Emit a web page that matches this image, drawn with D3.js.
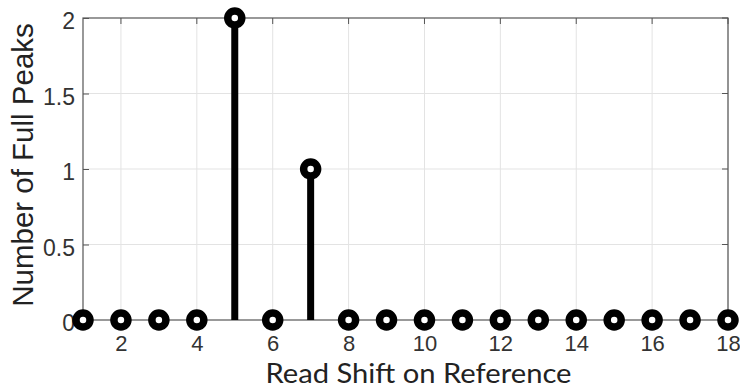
<!DOCTYPE html>
<html>
<head>
<meta charset="utf-8">
<script src="https://cdn.jsdelivr.net/npm/d3@7"></script>
<style>
  html, body { margin: 0; padding: 0; background: #fff; }
  svg { display: block; }
</style>
</head>
<body>
<svg id="chart" width="740" height="389"></svg>
<script>
// Read shifts along the reference and the number of full peaks found at each
const shifts = [1, 2, 3, 4, 5, 6, 7, 8, 9, 10, 11, 12, 13, 14, 15, 16, 17, 18];
const peakCounts = [0, 0, 0, 0, 2, 0, 1, 0, 0, 0, 0, 0, 0, 0, 0, 0, 0, 0];
const xTicks = [2, 4, 6, 8, 10, 12, 14, 16, 18];
const yTicks = [0, 0.5, 1, 1.5, 2];
const xTitle = "Read Shift on Reference";
const yTitle = "Number of Full Peaks";

const svg = d3.select("#chart");
const plotL = 83, plotR = 728, plotT = 18, plotB = 320;

const x = d3.scaleLinear().domain([1, 18]).range([plotL, plotR]);
const y = d3.scaleLinear().domain([0, 2]).range([plotB, plotT]);

// grid lines
const grid = svg.append("g");
grid.selectAll("line.gx").data(xTicks).join("line")
  .attr("x1", d => x(d)).attr("x2", d => x(d))
  .attr("y1", plotT).attr("y2", plotB)
  .attr("stroke", "#e3e3e3").attr("stroke-width", 1);
grid.selectAll("line.gy").data(yTicks.filter(d => d > 0 && d < 2)).join("line")
  .attr("x1", plotL).attr("x2", plotR)
  .attr("y1", d => y(d)).attr("y2", d => y(d))
  .attr("stroke", "#e3e3e3").attr("stroke-width", 1);

// axes box
const axisColor = "#555";
svg.append("rect")
  .attr("x", plotL).attr("y", plotT)
  .attr("width", plotR - plotL).attr("height", plotB - plotT)
  .attr("fill", "none").attr("stroke", axisColor).attr("stroke-width", 1.2);

const tickFont = "Liberation Sans, Arial, sans-serif";

// bottom axis, ticks pointing inward
const xAxis = d3.axisBottom(x).tickValues(xTicks).tickSize(-6).tickPadding(15);
const gx = svg.append("g").attr("transform", `translate(0,${plotB})`).call(xAxis);
gx.select(".domain").remove();
gx.selectAll(".tick line").attr("stroke", axisColor);
gx.selectAll(".tick text")
  .attr("font-family", tickFont)
  .attr("font-size", 22).attr("fill", "#333");

// top ticks
svg.append("g").selectAll("line").data(xTicks).join("line")
  .attr("x1", d => x(d)).attr("x2", d => x(d))
  .attr("y1", plotT).attr("y2", plotT + 6)
  .attr("stroke", axisColor);

// left axis
const yAxis = d3.axisLeft(y).tickValues(yTicks).tickSize(-6).tickPadding(8)
  .tickFormat(d => d3.format("")(d));
const gy = svg.append("g").attr("transform", `translate(${plotL},0)`).call(yAxis);
gy.select(".domain").remove();
gy.selectAll(".tick line").attr("stroke", axisColor);
gy.selectAll(".tick text")
  .attr("font-family", tickFont)
  .attr("font-size", 23).attr("fill", "#333")
  .attr("dy", "0.47em");

// right-side ticks
svg.append("g").selectAll("line").data(yTicks).join("line")
  .attr("x1", plotR - 6).attr("x2", plotR)
  .attr("y1", d => y(d)).attr("y2", d => y(d))
  .attr("stroke", axisColor);

// stems
const pts = shifts.map((s, i) => ({ s, v: peakCounts[i] }));
svg.append("g").selectAll("line").data(pts.filter(d => d.v !== 0)).join("line")
  .attr("x1", d => x(d.s)).attr("x2", d => x(d.s))
  .attr("y1", y(0)).attr("y2", d => y(d.v))
  .attr("stroke", "#000").attr("stroke-width", 7);

// markers
svg.append("g").selectAll("circle").data(pts).join("circle")
  .attr("cx", d => x(d.s)).attr("cy", d => y(d.v))
  .attr("r", 7)
  .attr("fill", "#fff").attr("stroke", "#000").attr("stroke-width", 7.5);

// axis titles
const xCenter = (plotL + plotR) / 2 + 13;
svg.append("text")
  .attr("transform", `translate(${xCenter},383) scale(1.08,1)`)
  .attr("text-anchor", "middle")
  .attr("font-family", "Lato, Open Sans, sans-serif")
  .attr("font-size", 27).attr("fill", "#222")
  .text(xTitle);

svg.append("text")
  .attr("transform", `translate(33,165) rotate(-90)`)
  .attr("text-anchor", "middle")
  .attr("font-family", tickFont)
  .attr("font-size", 29.5).attr("fill", "#222")
  .text(yTitle);
</script>
</body>
</html>
